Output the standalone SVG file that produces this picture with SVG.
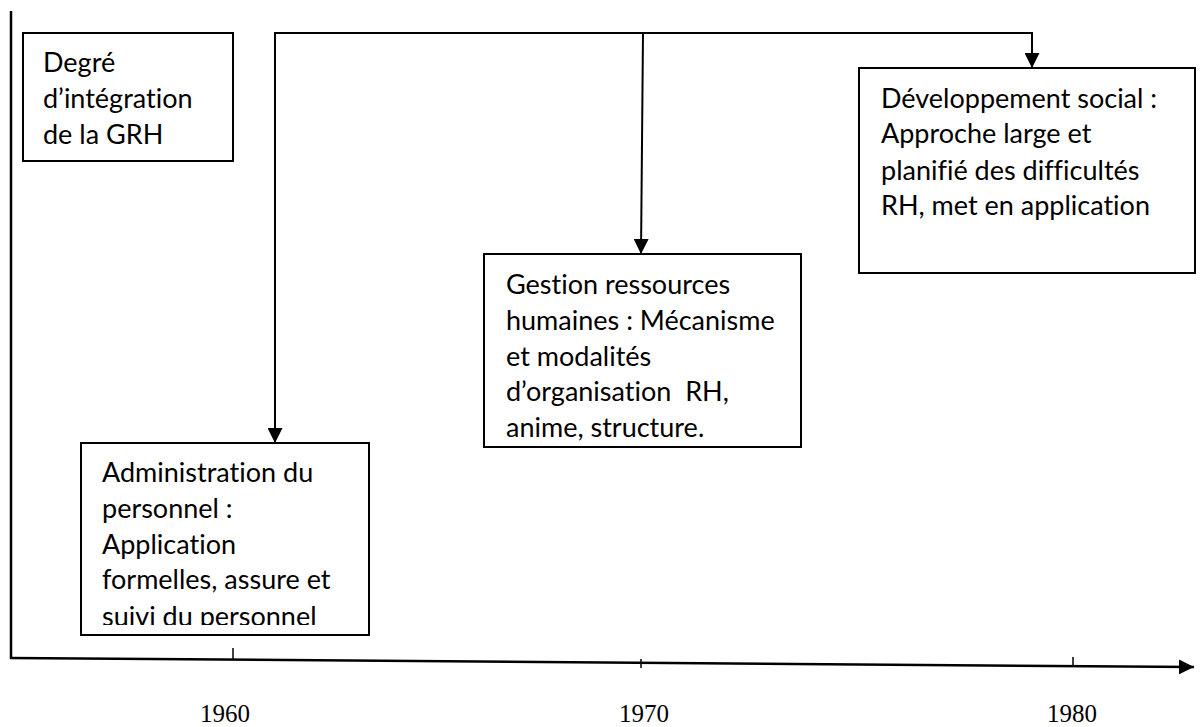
<svg xmlns="http://www.w3.org/2000/svg" width="1203" height="727" viewBox="0 0 1203 727">
  <style>
    .box { fill: #ffffff; stroke: #000000; stroke-width: 2; }
    .lbl { font-family: Lato, "Liberation Sans", sans-serif; font-size: 27px; fill: #000000; font-variant-ligatures: no-common-ligatures; white-space: pre; }
    .yr { font-family: "Liberation Serif", serif; font-size: 25px; fill: #000000; text-anchor: middle; }
    .conn { fill: none; stroke: #000000; stroke-width: 2; }
    .axis { fill: none; stroke: #000000; stroke-width: 2.5; }
    .tick { stroke: #000000; stroke-width: 1.5; }
  </style>
  <defs>
    <marker id="arr" viewBox="0 0 10 10" refX="10" refY="5" markerWidth="7.5" markerHeight="7.5" markerUnits="strokeWidth" orient="auto">
      <path d="M0,0 L10,5 L0,10 z" fill="#000000"/>
    </marker>
    <marker id="arrAxis" viewBox="0 0 10 10" refX="10" refY="5" markerWidth="6" markerHeight="6" markerUnits="strokeWidth" orient="auto">
      <path d="M0,0 L10,5 L0,10 z" fill="#000000"/>
    </marker>
    <clipPath id="clipAdmin">
      <rect x="82" y="444" width="286" height="181"/>
    </clipPath>
  </defs>
  <rect width="1203" height="727" fill="#ffffff"/>

  <g id="axes">
    <line x1="11" y1="11" x2="11" y2="659" class="axis"/>
    <line x1="10" y1="658" x2="1194" y2="667" class="axis" marker-end="url(#arrAxis)"/>
    <line x1="233" y1="648" x2="233" y2="659" class="tick"/>
    <line x1="641" y1="659" x2="641" y2="668" class="tick"/>
    <line x1="1073" y1="657" x2="1073" y2="666" class="tick"/>
    <text x="225" y="722" class="yr">1960</text>
    <text x="644" y="722" class="yr">1970</text>
    <text x="1072" y="722" class="yr">1980</text>
  </g>

  <g id="connectors">
    <polyline points="275,443 275,33 1032,33 1032,68" class="conn" marker-end="url(#arr)"/>
    <line x1="275" y1="33" x2="275" y2="443" class="conn" marker-end="url(#arr)"/>
    <line x1="643" y1="33" x2="641" y2="254" class="conn" marker-end="url(#arr)"/>
  </g>

  <g id="node-degre">
    <rect x="23" y="33" width="210" height="128" class="box"/>
    <text class="lbl"><tspan x="43" y="72">Degré</tspan><tspan x="43" y="108">d’intégration</tspan><tspan x="43" y="144">de la GRH</tspan></text>
  </g>

  <g id="node-admin">
    <rect x="81" y="443" width="288" height="192" class="box"/>
    <text class="lbl" clip-path="url(#clipAdmin)"><tspan x="102" y="482">Administration du</tspan><tspan x="102" y="518">personnel :</tspan><tspan x="102" y="554">Application</tspan><tspan x="102" y="589">formelles, assure et</tspan><tspan x="102" y="626">suivi du personnel</tspan></text>
  </g>

  <g id="node-grh">
    <rect x="484" y="254" width="317" height="193" class="box"/>
    <text class="lbl"><tspan x="506" y="294">Gestion ressources</tspan><tspan x="506" y="330">humaines : Mécanisme</tspan><tspan x="506" y="366">et modalités</tspan><tspan x="506" y="401">d’organisation  RH,</tspan><tspan x="506" y="437">anime, structure.</tspan></text>
  </g>

  <g id="node-dev">
    <rect x="859" y="68" width="336" height="205" class="box"/>
    <text class="lbl"><tspan x="881" y="108">Développement social :</tspan><tspan x="881" y="143">Approche large et</tspan><tspan x="881" y="180">planifié des difficultés</tspan><tspan x="881" y="215">RH, met en application</tspan></text>
  </g>
</svg>
